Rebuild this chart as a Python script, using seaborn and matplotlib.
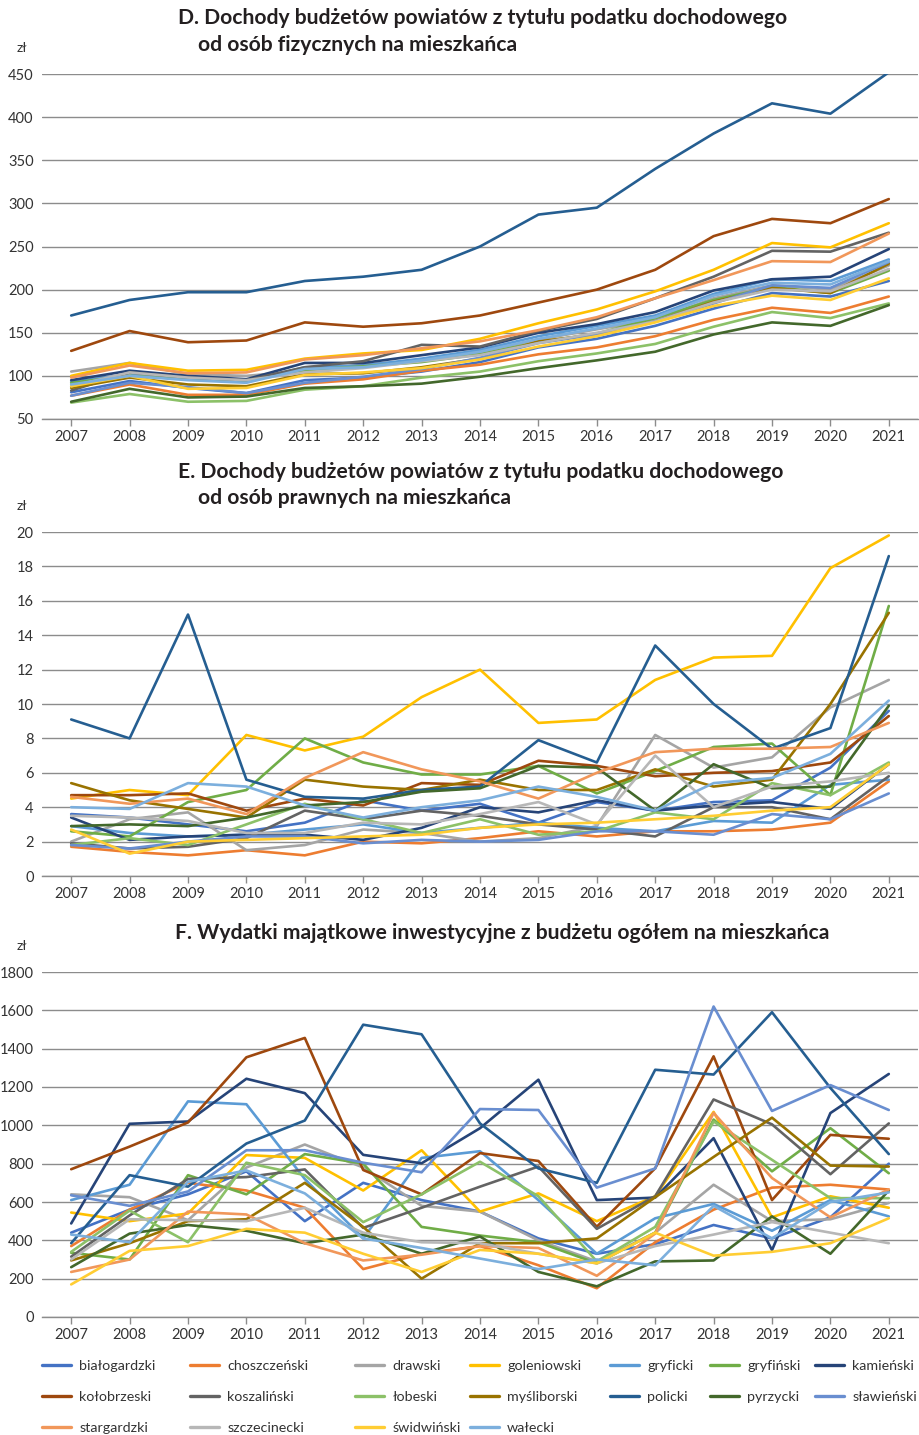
import numpy as np
import pandas as pd
import seaborn as sns
import matplotlib.pyplot as plt

# ---- data ----
years = list(range(2007, 2022))

powiaty = ["białogardzki", "choszczeński", "drawski", "goleniowski", "gryficki",
           "gryfiński", "kamieński", "kołobrzeski", "koszaliński", "łobeski",
           "myśliborski", "policki", "pyrzycki", "sławieński", "stargardzki",
           "szczecinecki", "świdwiński", "wałecki"]

colors = ["#4472C4", "#ED7D31", "#A5A5A5", "#FFC000", "#5B9BD5", "#70AD47",
          "#264478", "#9E480E", "#636363", "#8CC168", "#997300", "#255E91",
          "#43682B", "#698ED0", "#F1975A", "#B7B7B7", "#FFCD33", "#7CAFDD"]

# D. PIT per capita
pit = {
    "białogardzki": [81, 94, 86, 80, 95, 98, 105, 116, 133, 143, 158, 178, 196, 192, 210],
    "choszczeński": [77, 90, 78, 78, 91, 96, 106, 113, 125, 133, 146, 165, 179, 173, 192],
    "drawski": [105, 115, 102, 100, 106, 113, 118, 126, 142, 154, 165, 190, 205, 200, 228],
    "goleniowski": [100, 115, 106, 107, 120, 126, 130, 143, 161, 177, 198, 223, 254, 249, 277],
    "gryficki": [93, 102, 96, 94, 110, 112, 120, 130, 146, 158, 170, 195, 212, 210, 235],
    "gryfiński": [92, 100, 97, 94, 107, 111, 116, 125, 139, 149, 167, 188, 203, 196, 222],
    "kamieński": [95, 106, 100, 96, 115, 115, 124, 133, 150, 160, 174, 199, 212, 215, 247],
    "kołobrzeski": [129, 152, 139, 141, 162, 157, 161, 170, 185, 200, 223, 262, 282, 277, 305],
    "koszaliński": [83, 104, 98, 95, 110, 117, 136, 134, 152, 166, 190, 215, 245, 244, 266],
    "łobeski": [69, 79, 70, 71, 84, 88, 98, 105, 117, 126, 137, 157, 174, 167, 184],
    "myśliborski": [86, 98, 90, 88, 102, 103, 110, 120, 140, 148, 163, 186, 202, 196, 230],
    "policki": [170, 188, 197, 197, 210, 215, 223, 250, 287, 295, 340, 381, 416, 404, 452],
    "pyrzycki": [70, 85, 75, 76, 86, 88, 91, 99, 109, 118, 128, 148, 162, 158, 182],
    "sławieński": [77, 92, 87, 80, 92, 99, 108, 121, 138, 148, 163, 184, 205, 202, 232],
    "stargardzki": [98, 112, 103, 104, 119, 124, 132, 140, 153, 168, 190, 211, 233, 232, 265],
    "szczecinecki": [88, 104, 98, 95, 104, 109, 117, 124, 138, 150, 163, 185, 200, 198, 224],
    "świdwiński": [88, 100, 85, 86, 101, 104, 109, 119, 134, 146, 162, 181, 193, 188, 213],
    "wałecki": [90, 100, 95, 92, 108, 110, 118, 128, 143, 155, 168, 193, 208, 206, 233],
}

# E. CIT per capita
cit = {
    "białogardzki": [3.6, 3.4, 3.0, 2.6, 3.1, 4.4, 3.8, 4.2, 3.1, 4.3, 3.8, 4.3, 4.4, 6.3, 9.6],
    "choszczeński": [1.7, 1.4, 1.2, 1.5, 1.2, 2.0, 1.9, 2.2, 2.6, 2.3, 2.6, 2.6, 2.7, 3.1, 5.5],
    "drawski": [2.0, 3.3, 3.7, 1.5, 1.8, 2.7, 2.5, 2.0, 2.2, 2.9, 8.2, 6.3, 6.9, 9.8, 11.4],
    "goleniowski": [4.5, 5.0, 4.7, 8.2, 7.3, 8.1, 10.4, 12.0, 8.9, 9.1, 11.4, 12.7, 12.8, 17.9, 19.8],
    "gryficki": [2.9, 2.5, 2.3, 2.4, 2.7, 3.0, 2.5, 2.8, 3.1, 2.8, 2.6, 3.2, 3.1, 5.3, 5.6],
    "gryfiński": [2.6, 2.3, 4.3, 5.0, 8.0, 6.6, 5.9, 5.9, 6.4, 4.8, 6.1, 7.5, 7.7, 4.7, 15.7],
    "kamieński": [3.4, 2.1, 2.3, 2.4, 2.4, 2.1, 2.8, 4.0, 3.7, 4.4, 3.8, 4.1, 4.3, 3.9, 6.5],
    "kołobrzeski": [4.7, 4.7, 4.8, 3.8, 4.5, 4.1, 5.4, 5.3, 6.7, 6.4, 5.8, 6.0, 6.1, 6.6, 9.3],
    "koszaliński": [1.9, 1.6, 1.7, 2.2, 3.8, 3.3, 3.8, 3.5, 3.0, 2.7, 2.3, 4.0, 4.0, 3.3, 5.8],
    "łobeski": [1.8, 2.2, 1.8, 3.0, 4.2, 3.3, 2.5, 3.3, 2.4, 2.6, 3.7, 3.3, 5.4, 4.7, 6.6],
    "myśliborski": [5.4, 4.4, 3.9, 3.4, 5.6, 5.2, 5.0, 5.6, 5.0, 5.0, 6.2, 5.2, 5.6, 10.0, 15.3],
    "policki": [9.1, 8.0, 15.2, 5.6, 4.6, 4.5, 5.0, 5.2, 7.9, 6.6, 13.4, 10.0, 7.4, 8.6, 18.6],
    "pyrzycki": [2.9, 3.0, 2.9, 3.4, 4.1, 4.3, 4.9, 5.1, 6.4, 6.3, 3.8, 6.5, 5.1, 5.2, 9.9],
    "sławieński": [1.8, 1.6, 2.0, 2.3, 2.3, 1.9, 2.1, 2.0, 2.1, 2.6, 2.6, 2.4, 3.6, 3.3, 4.8],
    "stargardzki": [4.6, 4.2, 4.5, 3.6, 5.7, 7.2, 6.2, 5.5, 4.5, 6.0, 7.2, 7.4, 7.4, 7.5, 8.9],
    "szczecinecki": [3.5, 3.4, 3.2, 2.5, 2.5, 3.1, 3.0, 3.6, 4.3, 3.0, 7.0, 4.0, 5.2, 5.5, 6.0],
    "świdwiński": [2.7, 1.3, 2.0, 2.1, 2.2, 2.3, 2.4, 2.8, 3.0, 3.1, 3.3, 3.5, 3.8, 4.0, 6.5],
    "wałecki": [4.0, 3.9, 5.4, 5.2, 4.1, 3.4, 4.0, 4.4, 5.2, 4.6, 3.8, 5.4, 5.7, 7.1, 10.2],
}

# F. investment expenditure per capita
inv = {
    "białogardzki": [440, 560, 640, 760, 500, 700, 610, 550, 410, 330, 380, 480, 410, 520, 800],
    "choszczeński": [370, 560, 700, 660, 570, 250, 330, 370, 270, 150, 390, 560, 675, 690, 665],
    "drawski": [640, 625, 505, 780, 900, 780, 580, 550, 400, 290, 440, 690, 500, 510, 595],
    "goleniowski": [545, 500, 540, 845, 830, 660, 870, 550, 645, 500, 630, 1070, 520, 630, 570],
    "gryficki": [610, 690, 1125, 1110, 720, 410, 830, 865, 610, 330, 515, 590, 450, 610, 525],
    "gryfiński": [335, 300, 740, 640, 850, 800, 470, 425, 390, 280, 440, 1030, 760, 985, 750],
    "kamieński": [488, 1008, 1020, 1243, 1168, 846, 802, 985, 1238, 610, 623, 933, 349, 1064, 1268],
    "kołobrzeski": [771, 889, 1015, 1355, 1456, 767, 640, 855, 814, 471, 776, 1360, 610, 950, 930],
    "koszaliński": [315, 530, 720, 730, 770, 465, 570, 680, 785, 460, 630, 1135, 1005, 745, 1010],
    "łobeski": [340, 555, 390, 805, 740, 495, 640, 810, 630, 290, 470, 1020, 820, 620, 620],
    "myśliborski": [295, 385, 500, 510, 700, 470, 200, 385, 385, 410, 625, 835, 1040, 790, 785],
    "policki": [385, 740, 680, 905, 1025, 1525, 1475, 1010, 775, 700, 1290, 1265, 1590, 1195, 850],
    "pyrzycki": [260, 435, 480, 450, 385, 430, 330, 420, 235, 160, 290, 295, 525, 330, 660],
    "sławieński": [635, 580, 655, 870, 870, 805, 755, 1085, 1080, 675, 775, 1620, 1075, 1210, 1080],
    "stargardzki": [235, 300, 550, 535, 385, 295, 325, 370, 360, 215, 435, 1065, 725, 520, 665],
    "szczecinecki": [300, 510, 505, 500, 570, 440, 390, 385, 330, 280, 370, 430, 495, 440, 385],
    "świdwiński": [170, 345, 370, 460, 440, 330, 235, 350, 330, 280, 440, 320, 340, 385, 515],
    "wałecki": [430, 390, 705, 765, 645, 410, 360, 305, 250, 300, 270, 580, 410, 600, 650],
}

titles = [
    ("D. Dochody budżetów powiatów z tytułu podatku dochodowego",
     "od osób fizycznych na mieszkańca"),
    ("E. Dochody budżetów powiatów z tytułu podatku dochodowego",
     "od osób prawnych na mieszkańca"),
    ("F. Wydatki majątkowe inwestycyjne z budżetu ogółem na mieszkańca", None),
]

# ---- style ----
sns.set_style("white")
plt.rcParams["font.family"] = ["Lato", "DejaVu Sans"]
palette = dict(zip(powiaty, colors))
txt = "#333333"
title_c = "#231F20"
grid_c = "#8c8c8c"


def to_long(d):
    rows = []
    for p in powiaty:
        for y, v in zip(years, d[p]):
            rows.append((p, y, v))
    return pd.DataFrame(rows, columns=["powiat", "rok", "wartosc"])


fig = plt.figure(figsize=(9.2, 14.35), dpi=100)
H = 1435.0
W = 920.0

panels = [
    (pit, 74, 419, (50, 450), np.arange(50, 451, 50)),
    (cit, 532, 876, (0, 20), np.arange(0, 21, 2)),
    (inv, 972, 1317, (0, 1800), np.arange(0, 1801, 200)),
]
title_y = [(18, 45), (472, 498), (933, None)]

for i, (d, top, bot, ylim, yt) in enumerate(panels):
    ax = fig.add_axes([42 / W, 1 - bot / H, 876 / W, (bot - top) / H])
    sns.lineplot(data=to_long(d), x="rok", y="wartosc", hue="powiat",
                 hue_order=powiaty, palette=palette, linewidth=1.9,
                 legend=False, ax=ax, zorder=3)
    ax.set_xlim(2006.5, 2021.5)
    ax.set_ylim(*ylim)
    ax.set_yticks(yt)
    ax.set_xticks(years)
    ax.set_xticklabels([str(y) for y in years])
    ax.yaxis.grid(True, color=grid_c, linewidth=1.0, zorder=0)
    ax.xaxis.grid(False)
    for s in ["top", "right", "left"]:
        ax.spines[s].set_visible(False)
    ax.spines["bottom"].set_color(grid_c)
    ax.spines["bottom"].set_linewidth(1.0)
    ax.spines["bottom"].set_zorder(1)
    ax.tick_params(axis="x", length=5, width=1, color=grid_c, colors=txt,
                   labelsize=10.5, pad=3, bottom=True)
    ax.tick_params(axis="y", length=0, colors=txt, labelsize=10.5, pad=6)
    ax.set_xlabel("")
    ax.set_ylabel("")

    # unit label and title
    fig.text(22 / W, 1 - (top - 26) / H, "zł", fontsize=10, color=txt,
             ha="center", va="center")
    l1, l2 = titles[i]
    y1, y2 = title_y[i]
    x1 = 178 if i < 2 else 175
    fig.text(x1 / W, 1 - y1 / H, l1, fontsize=15.2, fontweight="bold",
             color=title_c, ha="left", va="center")
    if l2:
        fig.text(198 / W, 1 - y2 / H, l2, fontsize=15.2, fontweight="bold",
                 color=title_c, ha="left", va="center")

# legend: one column per position, entries read row by row
ncol = 7
col_x = [42, 190, 355, 470, 610, 710, 815]
for j in range(ncol):
    idx = list(range(j, len(powiaty), ncol))
    handles = [plt.Line2D([0], [0], color=colors[k], linewidth=2.4) for k in idx]
    labels = [powiaty[k] for k in idx]
    fig.legend(handles, labels, ncol=1, loc="upper left",
               bbox_to_anchor=(col_x[j] / W, 1 - 1360 / H), frameon=False,
               fontsize=10.3, handlelength=2.0, handletextpad=0.6,
               labelspacing=1.33, borderpad=0, borderaxespad=0,
               labelcolor=txt)

fig.savefig("out.png", dpi=100)
